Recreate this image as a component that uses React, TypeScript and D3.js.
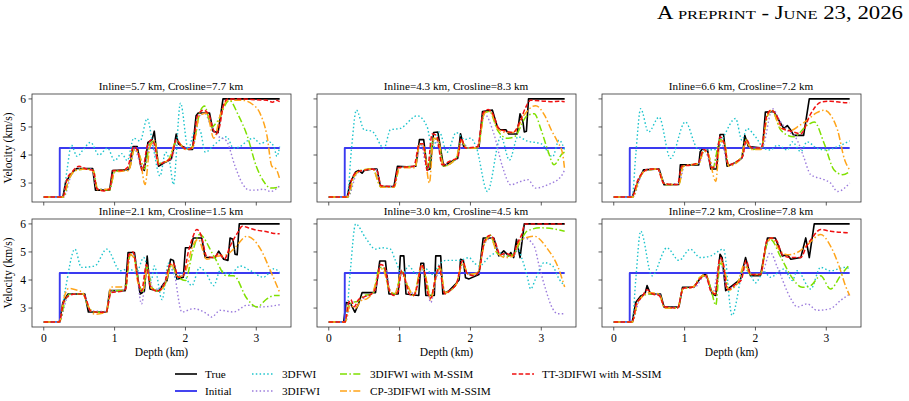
import * as d3 from 'd3';

type Pt = [number, number];

const depthTicks = [0, 1, 2, 3];
const velocityTicks = [3, 4, 5, 6];

const panelTitles = [
  'Inline=5.7 km, Crosline=7.7 km',
  'Inline=4.3 km, Crosline=8.3 km',
  'Inline=6.6 km, Crosline=7.2 km',
  'Inline=2.1 km, Crosline=1.5 km',
  'Inline=3.0 km, Crosline=4.5 km',
  'Inline=7.2 km, Crosline=7.8 km',
];

// starting model, the same in every trace
const initialModel: Pt[] = [[0, 2.5], [0.225, 2.5], [0.226, 4.25], [3.33, 4.25]];

// ---- Inline 5.7 / Crosline 7.7
const p1True: Pt[] = [[0,2.5],[0.27,2.5],[0.31,3.05],[0.37,3.25],[0.43,3.45],[0.47,3.52],[0.69,3.52],[0.73,2.75],[0.93,2.75],[0.97,3.45],[1.19,3.47],[1.22,3.6],[1.26,4.3],[1.32,4.3],[1.37,3.6],[1.42,3.45],[1.47,4.45],[1.53,4.55],[1.56,4.85],[1.58,4.4],[1.62,3.6],[1.7,3.72],[1.8,3.85],[1.84,4.3],[1.87,4.75],[1.9,4.4],[1.96,4.3],[2.05,4.2],[2.1,4.2],[2.15,5.4],[2.18,5.5],[2.34,5.5],[2.39,4.85],[2.46,4.8],[2.49,5.3],[2.53,6.0],[3.33,6.0]];
const p1Fwi: Pt[] = [[0,2.5],[0.27,2.5],[0.33,3.5],[0.39,4.35],[0.47,3.95],[0.56,4.2],[0.66,4.45],[0.78,4.0],[0.9,4.25],[1.0,3.8],[1.1,4.05],[1.18,3.8],[1.27,4.6],[1.36,4.5],[1.46,5.3],[1.55,4.2],[1.64,3.25],[1.72,4.1],[1.78,3.7],[1.83,2.95],[1.93,5.85],[2.04,4.2],[2.12,4.8],[2.2,4.9],[2.28,4.1],[2.4,4.35],[2.58,4.65],[2.68,4.24],[2.77,4.3],[2.87,4.5],[2.96,4.6],[3.06,4.4],[3.15,4.5],[3.25,4.3],[3.29,3.95],[3.33,4.3]];
const p1Ifwi: Pt[] = [[0,2.5],[0.28,2.5],[0.4,3.35],[0.5,3.5],[0.68,3.5],[0.75,2.78],[0.93,2.78],[1.0,3.4],[1.2,3.48],[1.28,4.2],[1.4,3.5],[1.52,4.45],[1.62,3.7],[1.8,3.85],[1.88,4.5],[2.0,4.2],[2.1,4.25],[2.2,5.4],[2.27,5.5],[2.35,5.1],[2.45,4.7],[2.58,4.5],[2.7,3.6],[2.8,3.0],[2.9,2.75],[3.0,2.75],[3.1,2.78],[3.2,2.7],[3.33,2.9]];
const p1Ms: Pt[] = [[0,2.5],[0.28,2.5],[0.35,3.1],[0.45,3.45],[0.6,3.5],[0.7,3.45],[0.76,2.8],[0.93,2.75],[1.0,3.4],[1.2,3.5],[1.28,4.2],[1.35,4.0],[1.42,3.5],[1.5,4.4],[1.56,4.5],[1.62,3.7],[1.75,3.8],[1.88,4.5],[2.0,4.2],[2.1,4.3],[2.2,5.5],[2.27,5.75],[2.37,5.0],[2.45,5.2],[2.62,5.95],[2.75,5.4],[2.87,4.7],[3.0,3.6],[3.12,3.0],[3.2,2.82],[3.33,2.85]];
const p1Cp: Pt[] = [[0,2.5],[0.27,2.5],[0.35,3.1],[0.45,3.45],[0.6,3.5],[0.7,3.4],[0.76,2.75],[0.93,2.8],[1.0,3.4],[1.2,3.45],[1.28,4.2],[1.35,4.0],[1.43,2.95],[1.5,4.3],[1.57,4.5],[1.62,3.7],[1.75,3.8],[1.88,4.5],[2.0,4.2],[2.1,4.25],[2.2,5.4],[2.3,5.5],[2.4,4.6],[2.5,5.5],[2.6,5.95],[2.8,5.95],[2.95,5.8],[3.05,5.5],[3.15,4.7],[3.22,3.6],[3.28,3.5],[3.33,3.15]];
const p1Tt: Pt[] = [[0,2.5],[0.27,2.5],[0.33,3.15],[0.4,3.4],[0.5,3.6],[0.6,3.5],[0.7,3.45],[0.75,2.8],[0.85,2.72],[0.93,2.78],[0.98,3.45],[1.1,3.45],[1.18,3.55],[1.27,4.3],[1.33,4.1],[1.39,3.45],[1.46,4.3],[1.53,4.55],[1.57,4.3],[1.62,3.65],[1.7,3.75],[1.8,3.9],[1.87,4.55],[1.95,4.3],[2.05,4.2],[2.1,4.3],[2.17,5.4],[2.25,5.6],[2.33,5.45],[2.38,5.0],[2.43,4.75],[2.48,5.0],[2.54,5.8],[2.6,6.0],[2.8,6.0],[3.0,5.97],[3.15,5.95],[3.23,5.88],[3.28,5.95],[3.33,5.9]];

// ---- Inline 4.3 / Crosline 8.3
const p2True: Pt[] = [[0,2.5],[0.26,2.5],[0.3,3.0],[0.38,3.4],[0.42,3.45],[0.47,3.35],[0.5,3.45],[0.56,3.48],[0.62,3.5],[0.68,3.5],[0.73,2.88],[0.92,2.88],[0.97,3.6],[1.1,3.58],[1.23,3.6],[1.28,4.55],[1.34,4.55],[1.39,3.47],[1.43,3.5],[1.48,4.8],[1.54,4.82],[1.62,3.6],[1.72,3.75],[1.82,3.88],[1.86,4.76],[1.91,4.25],[2.12,4.25],[2.17,5.55],[2.31,5.6],[2.38,5.0],[2.42,4.9],[2.5,4.9],[2.54,4.75],[2.66,4.75],[2.7,5.47],[2.74,5.2],[2.76,4.82],[2.79,4.85],[2.82,6.0],[3.33,6.0]];
const p2Fwi: Pt[] = [[0,2.5],[0.26,2.5],[0.32,4.2],[0.39,5.6],[0.5,4.9],[0.61,4.85],[0.78,4.24],[0.87,4.9],[1.01,4.95],[1.25,5.4],[1.39,5.0],[1.46,4.18],[1.56,4.82],[1.67,4.1],[1.8,4.8],[1.92,4.55],[2.0,4.6],[2.08,4.3],[2.24,2.7],[2.43,4.65],[2.55,3.82],[2.67,4.65],[2.8,4.5],[3.0,4.4],[3.16,3.94],[3.25,4.53],[3.33,4.18]];
const p2Ifwi: Pt[] = [[0,2.5],[0.27,2.5],[0.4,3.35],[0.5,3.45],[0.66,3.5],[0.74,2.88],[0.92,2.88],[1.0,3.55],[1.22,3.6],[1.3,4.4],[1.39,3.5],[1.5,4.6],[1.62,3.65],[1.82,3.9],[1.88,4.45],[1.98,4.25],[2.1,4.3],[2.2,5.45],[2.33,4.76],[2.45,3.6],[2.57,2.94],[2.7,3.05],[2.81,3.12],[2.92,2.82],[3.09,2.94],[3.28,3.24],[3.33,3.47]];
const p2Ms: Pt[] = [[0,2.5],[0.27,2.5],[0.35,3.2],[0.45,3.45],[0.62,3.5],[0.74,2.85],[0.92,2.85],[1.0,3.55],[1.22,3.6],[1.28,4.4],[1.34,4.3],[1.4,3.5],[1.48,4.6],[1.55,4.5],[1.62,3.6],[1.8,3.9],[1.87,4.5],[1.95,4.25],[2.1,4.25],[2.2,5.5],[2.27,5.55],[2.38,4.9],[2.52,4.6],[2.62,4.65],[2.8,5.4],[2.9,5.47],[3.0,4.88],[3.09,4.18],[3.18,3.65],[3.3,4.06],[3.33,4.1]];
const p2Cp: Pt[] = [[0,2.5],[0.26,2.5],[0.35,3.2],[0.45,3.45],[0.62,3.5],[0.74,2.85],[0.92,2.85],[1.0,3.55],[1.22,3.55],[1.28,4.4],[1.34,4.3],[1.42,3.0],[1.48,4.6],[1.55,4.5],[1.62,3.6],[1.8,3.9],[1.87,4.5],[1.95,4.25],[2.1,4.25],[2.2,5.5],[2.28,5.55],[2.38,4.95],[2.5,4.8],[2.62,4.8],[2.75,5.4],[2.92,5.76],[3.05,5.4],[3.14,4.9],[3.23,4.47],[3.3,4.06],[3.33,3.47]];
const p2Tt: Pt[] = [[0,2.5],[0.26,2.5],[0.32,3.1],[0.4,3.4],[0.5,3.45],[0.6,3.5],[0.68,3.45],[0.74,2.9],[0.92,2.88],[0.98,3.55],[1.2,3.6],[1.28,4.4],[1.33,4.4],[1.39,3.45],[1.46,4.75],[1.52,4.7],[1.6,3.65],[1.72,3.8],[1.82,3.9],[1.87,4.6],[1.93,4.25],[2.1,4.3],[2.18,5.5],[2.25,5.62],[2.32,5.45],[2.4,4.95],[2.5,4.85],[2.6,4.8],[2.7,5.2],[2.78,5.7],[2.85,5.95],[3.0,5.93],[3.15,5.9],[3.25,5.92],[3.33,5.9]];

// ---- Inline 6.6 / Crosline 7.2
const p3True: Pt[] = [[0,2.5],[0.26,2.5],[0.35,3.1],[0.42,3.47],[0.64,3.5],[0.71,2.94],[0.92,2.95],[0.94,3.65],[1.2,3.65],[1.22,4.12],[1.26,4.24],[1.32,4.24],[1.37,3.5],[1.45,3.5],[1.5,4.73],[1.55,4.73],[1.6,3.6],[1.74,3.75],[1.81,3.9],[1.85,4.7],[1.9,4.3],[2.1,4.25],[2.14,5.53],[2.26,5.55],[2.4,4.94],[2.45,5.05],[2.5,4.88],[2.54,4.7],[2.68,4.7],[2.76,6.0],[3.33,6.0]];
const p3Fwi: Pt[] = [[0,2.5],[0.26,2.5],[0.31,4.0],[0.38,5.65],[0.49,4.82],[0.64,5.35],[0.8,3.88],[1.01,5.18],[1.18,4.24],[1.27,4.18],[1.46,4.2],[1.55,4.65],[1.72,5.3],[1.81,4.53],[1.88,4.94],[2.0,4.65],[2.12,4.24],[2.21,4.18],[2.31,4.35],[2.45,4.18],[2.52,4.47],[2.64,4.12],[2.73,4.47],[2.87,4.24],[3.01,4.18],[3.16,4.3],[3.33,4.5]];
const p3Ifwi: Pt[] = [[0,2.5],[0.27,2.5],[0.4,3.35],[0.5,3.5],[0.62,3.5],[0.72,2.98],[0.92,2.98],[1.0,3.62],[1.2,3.7],[1.28,4.15],[1.4,3.55],[1.5,4.6],[1.62,3.65],[1.82,3.95],[1.87,4.5],[1.97,4.2],[2.1,4.3],[2.24,5.65],[2.35,5.2],[2.45,4.88],[2.59,4.53],[2.68,3.94],[2.78,3.3],[2.97,3.12],[3.06,3.0],[3.16,2.7],[3.33,3.0]];
const p3Ms: Pt[] = [[0,2.5],[0.27,2.5],[0.35,3.1],[0.45,3.45],[0.62,3.5],[0.72,2.95],[0.92,2.95],[0.98,3.6],[1.2,3.7],[1.27,4.15],[1.33,4.05],[1.4,3.55],[1.5,4.55],[1.56,4.45],[1.62,3.65],[1.8,3.9],[1.86,4.55],[1.95,4.2],[2.08,4.25],[2.17,5.4],[2.23,5.6],[2.36,4.88],[2.54,4.65],[2.73,5.06],[2.83,5.18],[2.97,4.41],[3.11,3.47],[3.23,3.3],[3.33,3.41]];
const p3Cp: Pt[] = [[0,2.5],[0.27,2.5],[0.35,3.1],[0.45,3.45],[0.62,3.5],[0.72,2.95],[0.92,2.95],[0.98,3.6],[1.2,3.7],[1.27,4.15],[1.33,4.05],[1.44,3.06],[1.5,4.5],[1.56,4.45],[1.62,3.6],[1.8,3.9],[1.86,4.5],[1.95,4.2],[2.08,4.2],[2.17,5.4],[2.23,5.6],[2.36,4.95],[2.5,4.88],[2.62,5.05],[2.73,5.24],[2.86,5.5],[2.97,5.6],[3.08,5.35],[3.16,4.88],[3.26,3.82],[3.33,3.47]];
const p3Tt: Pt[] = [[0,2.5],[0.26,2.5],[0.33,3.05],[0.42,3.4],[0.5,3.5],[0.62,3.5],[0.7,3.0],[0.8,2.95],[0.9,2.95],[0.96,3.6],[1.1,3.65],[1.2,3.75],[1.27,4.2],[1.32,4.1],[1.38,3.55],[1.44,3.6],[1.5,4.65],[1.56,4.4],[1.62,3.65],[1.72,3.75],[1.82,3.95],[1.87,4.55],[1.95,4.25],[2.08,4.25],[2.16,5.4],[2.22,5.6],[2.3,5.4],[2.38,4.95],[2.5,4.85],[2.64,4.76],[2.78,5.47],[2.92,5.88],[3.06,5.92],[3.2,5.88],[3.33,5.86]];

// ---- Inline 2.1 / Crosline 1.5
const p4True: Pt[] = [[0,2.5],[0.22,2.5],[0.27,3.2],[0.34,3.5],[0.58,3.5],[0.63,2.86],[0.89,2.86],[0.93,3.62],[1.15,3.62],[1.19,4.98],[1.28,4.98],[1.36,3.5],[1.42,3.6],[1.46,4.85],[1.5,3.68],[1.62,3.6],[1.69,3.86],[1.74,3.98],[1.79,4.74],[1.83,4.7],[1.88,4.03],[1.97,4.1],[2.0,5.15],[2.08,5.15],[2.11,5.5],[2.23,5.5],[2.28,4.8],[2.42,4.8],[2.47,5.03],[2.54,4.74],[2.6,4.7],[2.63,5.5],[2.67,5.45],[2.7,4.92],[2.73,4.9],[2.76,6.0],[3.33,6.0]];
const p4Fwi: Pt[] = [[0,2.5],[0.22,2.5],[0.3,3.6],[0.44,5.1],[0.53,4.45],[0.72,4.5],[0.89,5.1],[1.08,4.33],[1.2,4.4],[1.31,4.27],[1.41,4.8],[1.52,4.0],[1.56,4.5],[1.67,3.3],[1.76,4.6],[1.88,4.03],[1.95,4.27],[2.09,3.8],[2.2,4.45],[2.3,4.2],[2.4,3.8],[2.49,4.33],[2.63,4.2],[2.77,4.5],[2.92,4.33],[3.1,4.1],[3.25,4.4],[3.33,4.27]];
const p4Ifwi: Pt[] = [[0,2.5],[0.22,2.5],[0.32,3.3],[0.4,3.5],[0.56,3.5],[0.66,2.9],[0.88,2.88],[0.95,3.6],[1.15,3.65],[1.22,4.9],[1.28,4.85],[1.38,3.15],[1.46,4.4],[1.55,3.65],[1.7,3.85],[1.78,4.45],[1.83,4.33],[1.95,2.86],[2.11,2.98],[2.3,2.8],[2.37,2.68],[2.49,2.92],[2.68,2.86],[2.87,3.1],[3.06,3.04],[3.33,3.12]];
const p4Ms: Pt[] = [[0,2.5],[0.22,2.5],[0.3,3.25],[0.38,3.5],[0.55,3.5],[0.62,3.1],[0.72,2.85],[0.88,2.85],[0.95,3.6],[1.15,3.65],[1.22,4.9],[1.27,4.85],[1.34,3.9],[1.4,3.6],[1.46,4.5],[1.52,3.75],[1.62,3.6],[1.72,3.9],[1.8,4.5],[1.9,4.1],[2.0,3.98],[2.1,5.0],[2.2,5.62],[2.4,4.86],[2.58,4.15],[2.68,4.15],[2.87,3.33],[3.01,3.04],[3.15,3.33],[3.27,3.45],[3.33,3.45]];
const p4Cp: Pt[] = [[0,2.5],[0.22,2.5],[0.28,3.3],[0.35,3.7],[0.45,3.65],[0.55,3.55],[0.62,3.1],[0.72,2.78],[0.88,2.85],[0.95,3.75],[1.08,3.75],[1.15,3.8],[1.22,4.9],[1.27,4.8],[1.33,3.9],[1.4,3.65],[1.46,4.4],[1.52,3.7],[1.62,3.6],[1.72,3.9],[1.8,4.55],[1.9,4.1],[2.0,4.3],[2.1,5.2],[2.18,5.45],[2.3,4.74],[2.45,4.85],[2.58,4.9],[2.68,5.1],[2.87,5.56],[3.06,5.1],[3.2,4.33],[3.33,3.56]];
const p4Tt: Pt[] = [[0,2.5],[0.22,2.5],[0.28,3.2],[0.36,3.45],[0.45,3.5],[0.55,3.5],[0.6,3.3],[0.66,2.9],[0.75,2.85],[0.88,2.85],[0.95,3.55],[1.1,3.6],[1.16,3.7],[1.2,4.9],[1.26,5.0],[1.33,4.0],[1.38,3.6],[1.45,4.55],[1.5,3.8],[1.6,3.6],[1.7,3.85],[1.78,4.55],[1.83,4.6],[1.9,4.1],[1.97,4.15],[2.04,5.0],[2.1,5.5],[2.16,5.8],[2.22,5.6],[2.3,4.85],[2.4,4.8],[2.47,4.95],[2.55,4.75],[2.63,5.2],[2.68,5.45],[2.74,5.7],[2.8,5.92],[2.9,5.85],[3.0,5.78],[3.15,5.72],[3.25,5.66],[3.33,5.65]];

// ---- Inline 3.0 / Crosline 4.5
const p5True: Pt[] = [[0,2.5],[0.21,2.5],[0.245,3.2],[0.31,3.15],[0.37,2.85],[0.42,3.15],[0.47,3.55],[0.66,3.55],[0.72,4.68],[0.8,4.68],[0.85,3.5],[0.98,3.5],[1.01,4.86],[1.06,4.86],[1.09,3.5],[1.27,3.45],[1.3,4.6],[1.34,4.6],[1.37,3.45],[1.49,3.45],[1.51,4.86],[1.58,4.86],[1.61,3.5],[1.7,3.62],[1.79,3.86],[1.84,4.0],[1.86,4.74],[1.9,4.7],[1.93,4.08],[1.98,4.04],[2.12,4.2],[2.18,5.5],[2.33,5.5],[2.4,4.86],[2.47,5.04],[2.54,4.86],[2.57,4.98],[2.61,4.8],[2.65,5.45],[2.7,4.8],[2.76,6.0],[3.33,6.0]];
const p5Fwi: Pt[] = [[0,2.5],[0.24,2.5],[0.3,4.2],[0.38,6.0],[0.52,5.5],[0.66,5.1],[0.75,5.15],[0.87,5.1],[0.94,4.7],[1.04,4.22],[1.13,4.5],[1.23,4.22],[1.37,4.4],[1.46,4.2],[1.56,4.55],[1.65,4.7],[1.85,4.7],[1.98,4.8],[2.05,4.62],[2.12,4.5],[2.28,4.86],[2.38,4.98],[2.47,4.92],[2.61,4.86],[2.66,5.15],[2.73,4.74],[2.8,4.15],[2.85,3.68],[2.92,4.04],[3.04,4.62],[3.16,4.5],[3.25,4.04],[3.33,3.8]];
const p5Ifwi: Pt[] = [[0,2.5],[0.23,2.5],[0.32,3.2],[0.42,3.25],[0.55,3.45],[0.65,3.6],[0.73,4.45],[0.8,4.4],[0.88,3.55],[0.95,3.55],[1.03,4.2],[1.12,3.7],[1.22,3.5],[1.31,4.45],[1.37,4.0],[1.44,3.2],[1.52,4.1],[1.57,4.35],[1.64,3.55],[1.8,3.85],[1.89,4.55],[1.97,4.2],[2.1,4.25],[2.2,5.3],[2.3,5.5],[2.4,4.95],[2.5,4.85],[2.62,4.9],[2.7,5.3],[2.76,5.5],[2.9,5.2],[2.97,4.5],[3.06,3.68],[3.16,2.98],[3.23,2.8],[3.33,2.8]];
const p5Ms: Pt[] = [[0,2.5],[0.23,2.5],[0.28,3.1],[0.34,3.2],[0.42,3.25],[0.5,3.45],[0.62,3.5],[0.72,4.45],[0.77,4.45],[0.86,3.6],[0.94,3.5],[1.03,4.3],[1.1,3.85],[1.2,3.45],[1.31,4.5],[1.37,4.1],[1.44,3.4],[1.52,4.2],[1.57,4.45],[1.64,3.55],[1.8,3.85],[1.89,4.6],[1.97,4.2],[2.1,4.25],[2.2,5.35],[2.28,5.6],[2.38,4.95],[2.5,4.85],[2.6,4.9],[2.7,5.35],[2.8,5.74],[2.99,5.86],[3.18,5.82],[3.33,5.74]];
const p5Cp: Pt[] = [[0,2.5],[0.23,2.5],[0.3,3.1],[0.38,3.0],[0.45,3.25],[0.55,3.35],[0.62,3.55],[0.7,4.2],[0.76,4.4],[0.85,3.7],[0.93,3.5],[1.03,4.3],[1.1,3.9],[1.2,3.45],[1.31,4.5],[1.37,4.1],[1.44,3.3],[1.52,4.2],[1.57,4.4],[1.64,3.55],[1.8,3.85],[1.89,4.6],[1.97,4.2],[2.1,4.25],[2.2,5.3],[2.28,5.55],[2.38,4.95],[2.5,4.8],[2.6,4.85],[2.7,5.4],[2.9,5.56],[3.09,5.1],[3.23,4.5],[3.33,3.75]];
const p5Tt: Pt[] = [[0,2.5],[0.23,2.5],[0.27,3.1],[0.31,3.3],[0.36,3.05],[0.42,3.3],[0.5,3.4],[0.6,3.5],[0.66,3.7],[0.73,4.55],[0.78,4.5],[0.86,3.6],[0.92,3.45],[0.98,3.6],[1.03,4.35],[1.08,4.0],[1.14,3.5],[1.2,3.45],[1.25,3.8],[1.31,4.55],[1.35,4.3],[1.4,3.5],[1.44,3.35],[1.5,4.0],[1.56,4.5],[1.6,3.9],[1.64,3.5],[1.72,3.65],[1.8,3.85],[1.89,4.7],[1.95,4.25],[2.05,4.15],[2.12,4.3],[2.2,5.4],[2.28,5.6],[2.35,5.35],[2.42,4.9],[2.5,4.95],[2.6,4.85],[2.66,5.3],[2.72,5.6],[2.77,6.0],[3.33,6.0]];

// ---- Inline 7.2 / Crosline 7.8
const p6True: Pt[] = [[0,2.5],[0.26,2.5],[0.31,3.2],[0.38,3.43],[0.44,3.5],[0.47,3.8],[0.52,3.5],[0.66,3.5],[0.71,3.04],[0.92,3.04],[0.97,3.74],[1.13,3.74],[1.18,3.92],[1.25,4.15],[1.3,4.25],[1.39,3.5],[1.44,3.45],[1.5,4.92],[1.53,4.8],[1.58,3.62],[1.7,3.85],[1.79,4.03],[1.86,4.8],[1.93,4.15],[2.07,4.15],[2.17,5.5],[2.28,5.5],[2.38,4.86],[2.45,4.9],[2.5,4.74],[2.64,4.8],[2.71,5.5],[2.76,4.8],[2.83,6.0],[3.33,6.0]];
const p6Fwi: Pt[] = [[0,2.5],[0.26,2.5],[0.31,4.0],[0.38,5.74],[0.54,4.15],[0.75,5.15],[0.92,4.7],[1.08,5.1],[1.22,4.8],[1.37,4.86],[1.55,5.1],[1.67,2.74],[1.84,4.39],[1.93,4.2],[2.0,3.9],[2.12,4.3],[2.21,4.1],[2.4,4.39],[2.52,3.98],[2.59,4.33],[2.78,3.68],[2.92,4.45],[3.06,4.33],[3.27,4.45],[3.33,4.4]];
const p6Ifwi: Pt[] = [[0,2.5],[0.26,2.5],[0.35,3.2],[0.45,3.5],[0.64,3.5],[0.72,3.02],[0.9,3.02],[0.98,3.7],[1.15,3.75],[1.28,4.15],[1.4,3.55],[1.5,4.7],[1.6,3.7],[1.78,3.95],[1.86,4.55],[1.95,4.2],[2.08,4.2],[2.21,4.98],[2.31,4.45],[2.5,3.33],[2.59,3.04],[2.73,3.15],[2.87,2.92],[3.06,2.98],[3.2,3.27],[3.33,3.5]];
const p6Ms: Pt[] = [[0,2.5],[0.26,2.5],[0.33,3.15],[0.42,3.45],[0.5,3.5],[0.64,3.5],[0.72,3.0],[0.9,3.0],[0.98,3.7],[1.12,3.75],[1.22,4.1],[1.3,4.15],[1.38,3.6],[1.44,3.1],[1.5,4.6],[1.56,4.4],[1.62,3.65],[1.75,3.9],[1.85,4.5],[1.93,4.2],[2.07,4.2],[2.14,5.1],[2.21,5.45],[2.36,4.8],[2.5,4.15],[2.66,3.74],[2.78,3.8],[2.92,4.15],[3.06,3.68],[3.2,4.15],[3.33,4.56]];
const p6Cp: Pt[] = [[0,2.5],[0.26,2.5],[0.33,3.15],[0.42,3.45],[0.5,3.55],[0.64,3.5],[0.72,3.0],[0.9,3.0],[0.98,3.7],[1.12,3.75],[1.22,4.1],[1.3,4.2],[1.37,3.7],[1.43,3.5],[1.5,4.7],[1.56,4.4],[1.62,3.65],[1.75,3.9],[1.85,4.6],[1.93,4.2],[2.07,4.2],[2.16,5.3],[2.23,5.5],[2.33,5.1],[2.45,4.9],[2.59,4.98],[2.75,5.3],[2.92,5.62],[3.06,5.21],[3.18,4.5],[3.27,3.8],[3.33,3.45]];
const p6Tt: Pt[] = [[0,2.5],[0.26,2.5],[0.32,3.15],[0.4,3.4],[0.47,3.65],[0.55,3.5],[0.64,3.45],[0.72,3.05],[0.9,3.0],[0.98,3.7],[1.12,3.75],[1.22,4.05],[1.3,4.15],[1.37,3.6],[1.43,3.5],[1.5,4.8],[1.55,4.55],[1.6,3.65],[1.72,3.85],[1.8,4.0],[1.87,4.7],[1.93,4.2],[2.07,4.2],[2.16,5.4],[2.22,5.5],[2.3,5.4],[2.38,4.9],[2.5,4.8],[2.64,4.8],[2.72,5.2],[2.8,5.5],[2.92,5.8],[3.06,5.74],[3.2,5.7],[3.33,5.68]];

const traces = [
  { truth: p1True, fwi: p1Fwi, ifwi: p1Ifwi, ms: p1Ms, cp: p1Cp, tt: p1Tt },
  { truth: p2True, fwi: p2Fwi, ifwi: p2Ifwi, ms: p2Ms, cp: p2Cp, tt: p2Tt },
  { truth: p3True, fwi: p3Fwi, ifwi: p3Ifwi, ms: p3Ms, cp: p3Cp, tt: p3Tt },
  { truth: p4True, fwi: p4Fwi, ifwi: p4Ifwi, ms: p4Ms, cp: p4Cp, tt: p4Tt },
  { truth: p5True, fwi: p5Fwi, ifwi: p5Ifwi, ms: p5Ms, cp: p5Cp, tt: p5Tt },
  { truth: p6True, fwi: p6Fwi, ifwi: p6Ifwi, ms: p6Ms, cp: p6Cp, tt: p6Tt },
];

type SeriesKey = 'truth' | 'initial' | 'fwi' | 'ifwi' | 'ms' | 'cp' | 'tt';

const series: { key: SeriesKey; label: string; color: string; dash?: string; width: number; smooth: boolean }[] = [
  { key: 'truth', label: 'True', color: '#000000', width: 1.6, smooth: false },
  { key: 'initial', label: 'Initial', color: '#3a3af0', width: 1.9, smooth: false },
  { key: 'fwi', label: '3DFWI', color: '#1cc4cc', dash: '1.5,2.3', width: 1.4, smooth: true },
  { key: 'ifwi', label: '3DIFWI', color: '#9b7bdc', dash: '1.5,2.3', width: 1.4, smooth: true },
  { key: 'ms', label: '3DIFWI with M-SSIM', color: '#7fe000', dash: '7,2.4,1.5,2.4', width: 1.5, smooth: true },
  { key: 'cp', label: 'CP-3DIFWI with M-SSIM', color: '#ffa41a', dash: '7,2.4,1.5,2.4', width: 1.5, smooth: true },
  { key: 'tt', label: 'TT-3DIFWI with M-SSIM', color: '#f01010', dash: '4.5,2.2', width: 1.5, smooth: true },
];

const FONT = '"Liberation Serif", "Times New Roman", serif';
const PW = 259;
const PH = 108;
const colLeft = [32, 317, 602];
const rowTop = [94, 219];
// panel titles sit a little right of the axes centre
const titleShift = 9.5;

const x = d3.scaleLinear().domain([-0.166, 3.49]).range([0, PW]);
const y = d3.scaleLinear().domain([2.325, 6.175]).range([PH, 0]);

const straight = d3.line<Pt>().x((d) => x(d[0])).y((d) => y(d[1]));
const smooth = d3
  .line<Pt>()
  .x((d) => x(d[0]))
  .y((d) => y(d[1]))
  .curve(d3.curveMonotoneX);

function Panel({ index }: { index: number }) {
  const col = index % 3;
  const row = Math.floor(index / 3);
  const t = traces[index];
  const data: Record<SeriesKey, Pt[]> = { ...t, initial: initialModel };
  return (
    <g transform={`translate(${colLeft[col]},${rowTop[row]})`}>
      <text x={PW / 2 + titleShift} y={-4} textAnchor="middle" fontSize={11.2} fontFamily={FONT}>
        {panelTitles[index]}
      </text>
      {series.map((s) => (
        <path
          key={s.key}
          d={(s.smooth ? smooth : straight)(data[s.key]) ?? ''}
          fill="none"
          stroke={s.color}
          strokeWidth={s.width}
          strokeDasharray={s.dash}
          strokeLinejoin="round"
        />
      ))}
      <rect x={0} y={0} width={PW} height={PH} fill="none" stroke="#333" strokeWidth={0.8} />
      {depthTicks.map((v) => (
        <g key={v} transform={`translate(${x(v)},${PH})`}>
          <line y2={3.5} stroke="#333" strokeWidth={0.8} />
          {row === 1 && (
            <text y={15} textAnchor="middle" fontSize={11.5} fontFamily={FONT}>
              {v}
            </text>
          )}
        </g>
      ))}
      {velocityTicks.map((v) => (
        <g key={v} transform={`translate(0,${y(v)})`}>
          <line x2={-3.5} stroke="#333" strokeWidth={0.8} />
          {col === 0 && (
            <text x={-6} dy="0.35em" textAnchor="end" fontSize={11.5} fontFamily={FONT}>
              {v}
            </text>
          )}
        </g>
      ))}
      {col === 0 && (
        <text
          transform={`translate(-20,${PH / 2}) rotate(-90)`}
          textAnchor="middle"
          fontSize={11.5}
          fontFamily={FONT}
        >
          Velocity (km/s)
        </text>
      )}
      {row === 1 && (
        <text x={PW / 2} y={PH + 29} textAnchor="middle" fontSize={11.5} fontFamily={FONT}>
          Depth (km)
        </text>
      )}
    </g>
  );
}

function Legend() {
  const colX = [175, 252, 340, 512];
  const rowY = [374, 391];
  return (
    <g>
      {series.map((s, i) => {
        const lx = colX[Math.floor(i / 2)];
        const ly = rowY[i % 2];
        return (
          <g key={s.key} transform={`translate(${lx},${ly})`}>
            <line x2={22} stroke={s.color} strokeWidth={s.width} strokeDasharray={s.dash} />
            <text x={30} dy="0.35em" fontSize={11.2} fontFamily={FONT}>
              {s.label}
            </text>
          </g>
        );
      })}
    </g>
  );
}

export default function App() {
  return (
    <svg
      width={909}
      height={401}
      style={{ position: 'absolute', left: 0, top: 0, background: '#fff' }}
    >
      <text
        x={657}
        y={19}
        textLength={246}
        lengthAdjust="spacingAndGlyphs"
        fontSize={18}
        fontFamily={FONT}
        style={{ fontVariant: 'small-caps' }}
      >
        A preprint - June 23, 2026
      </text>
      {traces.map((_, i) => (
        <Panel key={i} index={i} />
      ))}
      <Legend />
    </svg>
  );
}
